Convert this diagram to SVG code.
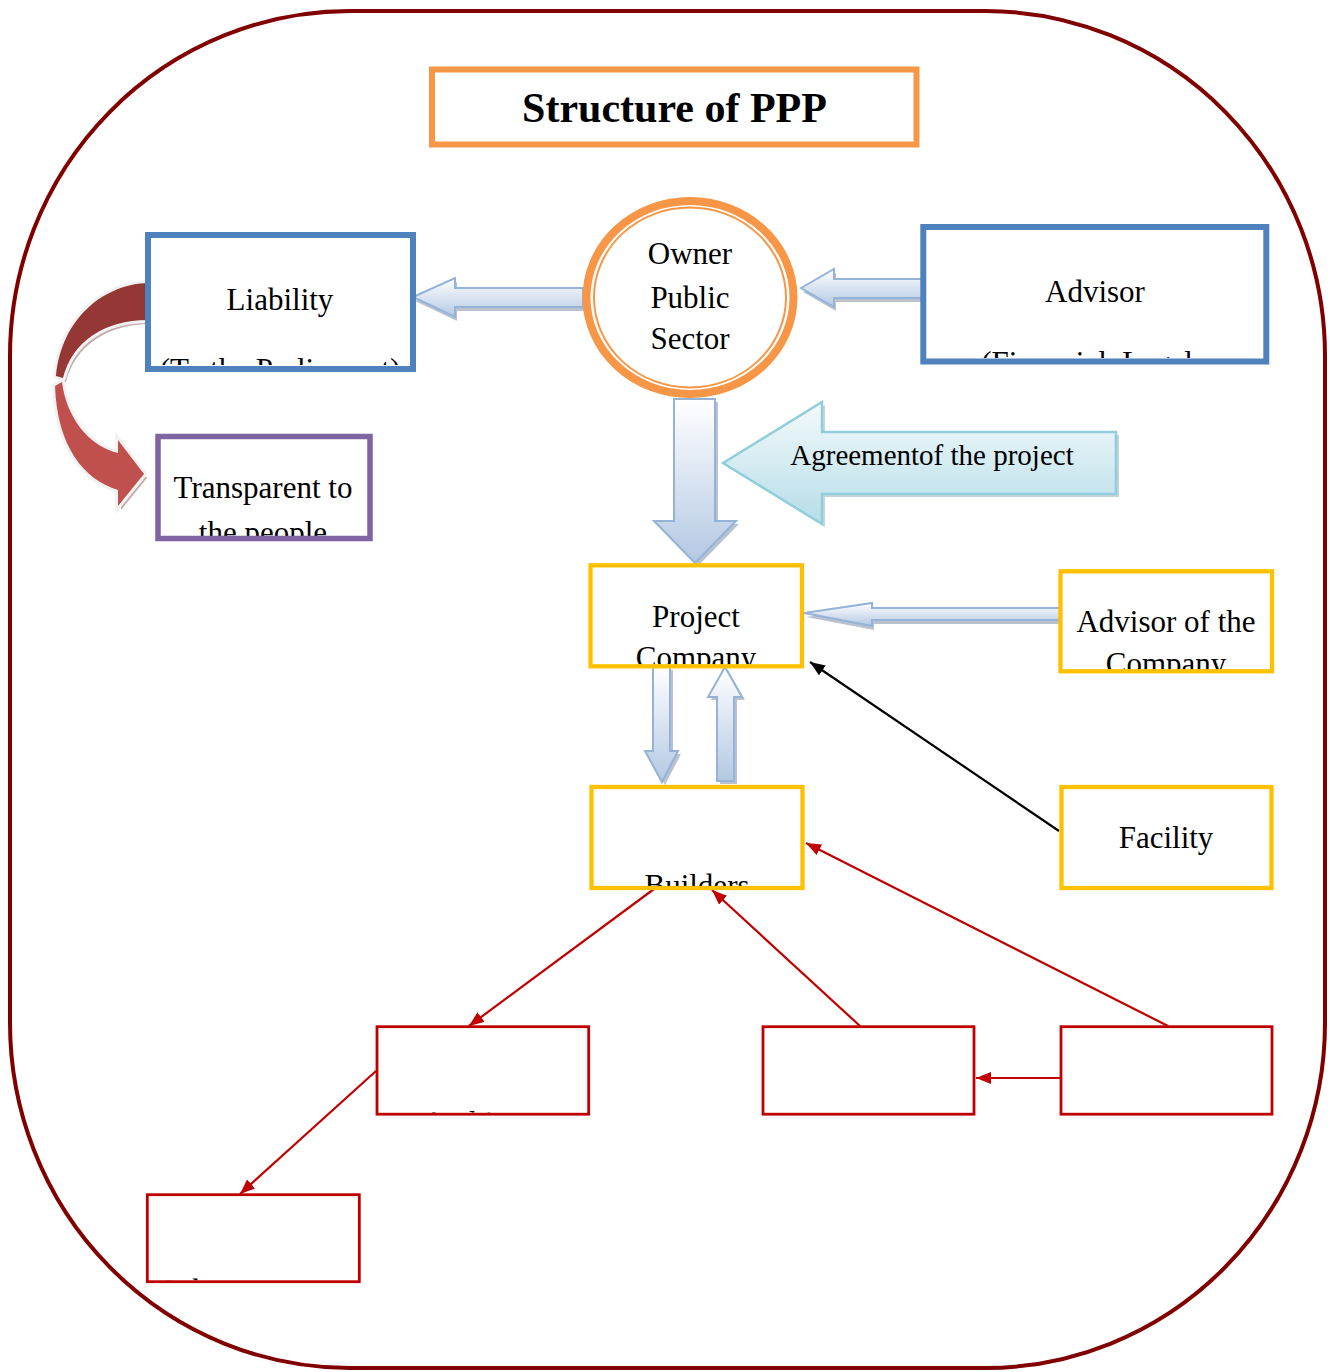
<svg xmlns="http://www.w3.org/2000/svg" xmlns:xlink="http://www.w3.org/1999/xlink" width="1330" height="1372" viewBox="0 0 1330 1372">
<style>
text{font-family:"Liberation Serif","Times New Roman",serif;fill:#000;}
.t{font-size:31px;text-anchor:middle;}
.title{font-size:42px;font-weight:bold;text-anchor:middle;}
.bx{fill:#fff;}
.blue{stroke:#4F81BD;stroke-width:6;fill:none;}
.yel{stroke:#FFC000;stroke-width:4.3;fill:none;}
.red{stroke:#C00000;stroke-width:2.8;fill:none;}
.barrow{fill:url(#gBlue);stroke:#95B3D7;stroke-width:2;stroke-linejoin:miter;}
.shadow{fill:#7F8FA6;opacity:0.55;stroke:none;}
.rline{stroke:#C00000;stroke-width:2.2;fill:none;marker-end:url(#mRed);}
</style>
<defs>
<linearGradient id="gBlue" x1="0" y1="0" x2="0" y2="1">
<stop offset="0" stop-color="#FFFFFF"/>
<stop offset="1" stop-color="#B3C8E3"/>
</linearGradient>
<linearGradient id="gCyan" x1="0" y1="0" x2="0" y2="1">
<stop offset="0" stop-color="#F4FAFC"/>
<stop offset="1" stop-color="#B5DDE7"/>
</linearGradient>
<marker id="mRed" markerUnits="userSpaceOnUse" markerWidth="16" markerHeight="12" refX="15" refY="6" orient="auto">
<path d="M0,0 L15,6 L0,12 Z" fill="#C00000"/>
</marker>
<marker id="mBlack" markerUnits="userSpaceOnUse" markerWidth="16" markerHeight="12" refX="15" refY="6" orient="auto">
<path d="M0,0 L15,6 L0,12 Z" fill="#000"/>
</marker>
<path id="aLiab" d="M413,297 L455,278 L455,288 L583,288 L583,307 L455,307 L455,317 Z"/>
<path id="aAdv" d="M801,288 L834,269 L834,279 L923,279 L923,298 L834,298 L834,307 Z"/>
<path id="aDown" d="M674,399 L715,399 L715,521 L736,521 L695,563 L654,521 L674,521 Z"/>
<path id="aSDown" d="M653,667 L670,667 L670,751 L678,751 L662,782 L645,751 L653,751 Z"/>
<path id="aSUp" d="M725,667 L742,697 L734,697 L734,781 L717,781 L717,697 L708,697 Z"/>
<path id="aAdvCo" d="M804,613 L872,603 L872,608 L1060,608 L1060,620 L872,620 L872,626 Z"/>
<path id="aAgr" d="M723,463 L822,402 L822,432 L1116,432 L1116,494 L822,494 L822,524 Z"/>
<path id="cvTop" d="M148,283 C106,284 62,316 56,376 L63,378 C72,342 104,320 148,320 Z"/>
<path id="cvBot" d="M62,382 C66,416 88,446 118,453 L118,440 L144,474 L118,506 L118,490 C84,480 57,446 55,386 Z"/>
<clipPath id="cLiab"><rect x="151" y="238" width="259" height="127"/></clipPath>
<clipPath id="cTrans"><rect x="161" y="440" width="206" height="96"/></clipPath>
<clipPath id="cAdv"><rect x="927" y="230" width="336" height="128"/></clipPath>
<clipPath id="cProj"><rect x="592.5" y="567.5" width="207.5" height="97"/></clipPath>
<clipPath id="cAdvCo"><rect x="1062.5" y="573.5" width="207.5" height="96"/></clipPath>
<clipPath id="cBuild"><rect x="593.5" y="789" width="207" height="97"/></clipPath>
<clipPath id="cArch"><rect x="378.4" y="1028" width="209" height="84.5"/></clipPath>
<clipPath id="cSub"><rect x="148.7" y="1196" width="209.2" height="84.2"/></clipPath>
</defs>

<rect id="frame" x="10" y="11" width="1315" height="1357" rx="340" ry="345" fill="#fff" stroke="#800000" stroke-width="4"/>

<g id="title">
<rect x="432" y="69.5" width="484.5" height="75" fill="#fff" stroke="#F79646" stroke-width="6"/>
<text class="title" x="674.5" y="122">Structure of PPP</text>
</g>

<g id="connectors">
<g id="curved">
<g transform="translate(3,4)" opacity="0.45" fill="#7a4a4a">
<use xlink:href="#cvTop"/>
<use xlink:href="#cvBot"/>
</g>
<use xlink:href="#cvTop" fill="#953735" stroke="#F2F2F2" stroke-width="6" stroke-linejoin="round" paint-order="stroke"/>
<use xlink:href="#cvBot" fill="#C0504D" stroke="#F2F2F2" stroke-width="6" stroke-linejoin="miter" paint-order="stroke"/>
</g>
<use xlink:href="#aLiab" class="shadow" transform="translate(2,4)"/>
<use xlink:href="#aLiab" class="barrow"/>
<use xlink:href="#aAdv" class="shadow" transform="translate(2,4)"/>
<use xlink:href="#aAdv" class="barrow"/>
<use xlink:href="#aDown" class="shadow" transform="translate(3,3)"/>
<use xlink:href="#aDown" class="barrow"/>
<use xlink:href="#aSDown" class="shadow" transform="translate(3,3)"/>
<use xlink:href="#aSDown" class="barrow"/>
<use xlink:href="#aSUp" class="shadow" transform="translate(3,3)"/>
<use xlink:href="#aSUp" class="barrow"/>
<use xlink:href="#aAdvCo" class="shadow" transform="translate(2,4)"/>
<use xlink:href="#aAdvCo" class="barrow"/>
<g id="agreement">
<use xlink:href="#aAgr" transform="translate(3,3)" fill="#8FA9B0" opacity="0.5"/>
<use xlink:href="#aAgr" fill="url(#gCyan)" stroke="#92CDDC" stroke-width="2.5"/>
<text x="932" y="465" style="font-size:29px;text-anchor:middle;">Agreementof the project</text>
</g>
<line x1="1059" y1="831" x2="810" y2="662" stroke="#000" stroke-width="2.2" marker-end="url(#mBlack)"/>
<line class="rline" x1="654" y1="889" x2="469" y2="1026"/>
<line class="rline" x1="860" y1="1026" x2="712" y2="890"/>
<line class="rline" x1="1168" y1="1026" x2="806" y2="843"/>
<line class="rline" x1="1060" y1="1078" x2="976" y2="1078"/>
<line class="rline" x1="376" y1="1071" x2="240" y2="1194"/>
</g>

<g id="owner">
<ellipse cx="690" cy="297.5" rx="103.5" ry="96.5" fill="#fff" stroke="#F79646" stroke-width="8"/>
<ellipse cx="690" cy="297.5" rx="96" ry="90" fill="none" stroke="#F79646" stroke-width="2"/>
<text class="t" x="690" y="264">Owner</text>
<text class="t" x="690" y="308">Public</text>
<text class="t" x="690" y="349">Sector</text>
</g>

<g id="liability">
<rect class="bx" x="148" y="235" width="265" height="134"/>
<g clip-path="url(#cLiab)">
<text class="t" x="280" y="310">Liability</text>
<text class="t" x="280" y="380">(To the Parliament)</text>
</g>
<rect class="blue" x="148" y="235" width="265" height="134"/>
</g>

<g id="transparent">
<rect class="bx" x="158" y="436.5" width="212" height="102"/>
<g clip-path="url(#cTrans)">
<text class="t" x="263" y="498">Transparent to</text>
<text class="t" x="263" y="543">the people</text>
</g>
<rect x="158" y="436.5" width="212" height="102" fill="none" stroke="#8064A2" stroke-width="5.5"/>
</g>

<g id="advisor">
<rect class="bx" x="923.3" y="227" width="343" height="134.5"/>
<g clip-path="url(#cAdv)">
<text class="t" x="1095" y="302">Advisor</text>
<text class="t" x="1087" y="372.5">(Financial, Legal</text>
</g>
<rect class="blue" x="923.3" y="227" width="343" height="134.5"/>
</g>

<g id="project-company">
<rect class="bx" x="590.5" y="565.3" width="211.5" height="101"/>
<g clip-path="url(#cProj)">
<text class="t" x="696" y="627">Project</text>
<text class="t" x="696" y="668">Company</text>
</g>
<rect class="yel" x="590.5" y="565.3" width="211.5" height="101"/>
</g>

<g id="advisor-company">
<rect class="bx" x="1060.5" y="571.3" width="211.5" height="100"/>
<g clip-path="url(#cAdvCo)">
<text class="t" x="1166" y="632">Advisor of the</text>
<text class="t" x="1166" y="674">Company</text>
</g>
<rect class="yel" x="1060.5" y="571.3" width="211.5" height="100"/>
</g>

<g id="builders">
<rect class="bx" x="591.5" y="787" width="211" height="101"/>
<g clip-path="url(#cBuild)">
<text class="t" x="697" y="896">Builders</text>
</g>
<rect class="yel" x="591.5" y="787" width="211" height="101"/>
</g>

<g id="facility">
<rect class="bx" x="1061.5" y="787" width="210" height="101"/>
<text class="t" x="1166" y="848">Facility</text>
<rect class="yel" x="1061.5" y="787" width="210" height="101"/>
</g>

<g id="architect">
<rect class="bx" x="377" y="1026.7" width="211.7" height="87.5"/>
<g clip-path="url(#cArch)">
<text class="t" x="480.5" y="1133">Architect</text>
</g>
<rect class="red" x="377" y="1026.7" width="211.7" height="87.5"/>
</g>

<g id="box-middle">
<rect class="red" x="763" y="1026.7" width="211" height="87.5" style="fill:#fff"/>
</g>

<g id="box-right">
<rect class="red" x="1061" y="1026.7" width="211" height="87.5" style="fill:#fff"/>
</g>

<g id="subcontractor">
<rect class="bx" x="147.3" y="1194.7" width="212" height="87"/>
<g clip-path="url(#cSub)">
<text class="t" x="247" y="1300.5">Subcontractor</text>
</g>
<rect class="red" x="147.3" y="1194.7" width="212" height="87"/>
</g>
</svg>
